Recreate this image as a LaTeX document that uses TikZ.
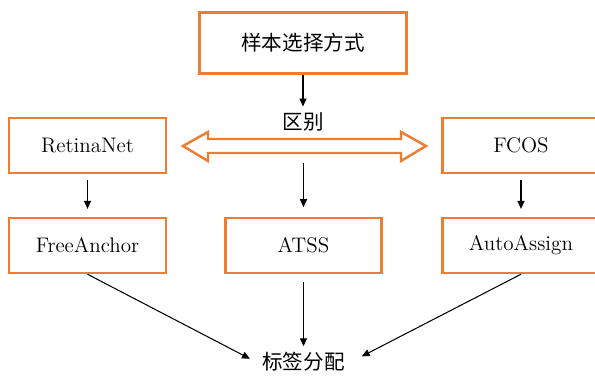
\documentclass[tikz,border=0pt]{standalone}
\usepackage{fontspec}
\newfontfamily\cjkfont{Noto Sans CJK SC}
\usetikzlibrary{arrows.meta}
\definecolor{boxorange}{HTML}{ED7D31}

\begin{document}
\begin{tikzpicture}[x=0.02cm,y=-0.02cm]
      \useasboundingbox (0,0) rectangle (595,376);
      \begin{scope}[every node/.style={draw=boxorange,line width=1.4pt,minimum width=3.14cm,minimum height=1.1cm,font=\fontsize{12}{14}\selectfont}]
        \node[minimum width=4.14cm,minimum height=1.22cm,font=\cjkfont\fontsize{11.7}{14}\selectfont] (sample) at (303,43) {样本选择方式};
        \node (retina) at (87.5,145.5) {RetinaNet};
        \node (fcos) at (521,145.5) {FCOS};
        \node (free) at (87.5,245.5) {FreeAnchor};
        \node[minimum width=3.12cm] (atss) at (303.5,245.5) {ATSS};
        \node (auto) at (521,245.5) {AutoAssign};
      \end{scope}
      \begin{scope}[every node/.style={font=\cjkfont\fontsize{11.7}{14}\selectfont}]
        \node (diff) at (303,122) {区别};
        \node (label) at (303.5,362) {标签分配};
      \end{scope}
      \coordinate (split) at (303.5,163);
      \draw[boxorange,line width=1.4pt,fill=white] (183,146) -- (208,132) -- (208,139) -- (401,139)
        -- (401,132) -- (426,146) -- (401,161) -- (401,153) -- (208,153) -- (208,161) -- cycle;
      \begin{scope}[every edge/.style={draw=black,line width=0.6pt,-{Triangle[length=4.5pt,width=4pt]}}]
        \path (sample) edge (diff);
        \path (retina) edge[shorten <=3.5pt,shorten >=4.5pt] (free);
        \path (fcos) edge[shorten <=3.5pt,shorten >=4.5pt] (auto);
        \path (split) edge[shorten >=5.5pt] (atss);
        \path (atss) edge[shorten <=4.5pt] (label);
        \path (free.south) edge[shorten >=4pt] (label.west);
        \path (auto.south) edge[shorten >=7pt] (label.east);
      \end{scope}
    \end{tikzpicture}
\end{document}
